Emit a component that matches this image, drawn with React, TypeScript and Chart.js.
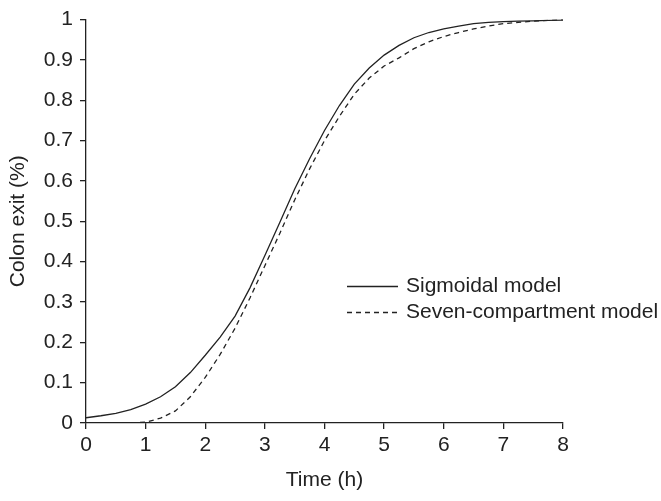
import React, { useEffect, useRef } from "react";
import { Chart, registerables } from "chart.js";

Chart.register(...registerables);

const hours = [0, 0.25, 0.5, 0.75, 1, 1.25, 1.5, 1.75, 2, 2.25, 2.5, 2.75, 3, 3.25, 3.5, 3.75, 4, 4.25, 4.5, 4.75, 5, 5.25, 5.5, 5.75, 6, 6.25, 6.5, 6.75, 7, 7.25, 7.5, 7.75, 8];
const sigmoidal = [0.013, 0.018, 0.024, 0.033, 0.047, 0.065, 0.09, 0.125, 0.168, 0.213, 0.265, 0.335, 0.415, 0.497, 0.58, 0.655, 0.725, 0.787, 0.84, 0.88, 0.912, 0.936, 0.955, 0.968, 0.977, 0.984, 0.99, 0.993, 0.995, 0.996, 0.997, 0.998, 0.999];
const sevenCompartment = [0, 0, 0, 0, 0.002, 0.012, 0.03, 0.065, 0.113, 0.17, 0.235, 0.31, 0.39, 0.47, 0.553, 0.63, 0.7, 0.76, 0.815, 0.855, 0.885, 0.905, 0.928, 0.945, 0.958, 0.968, 0.977, 0.984, 0.99, 0.993, 0.996, 0.998, 1.0];
const seriesNames = ["Sigmoidal model", "Seven-compartment model"];
const xTitle = "Time (h)";
const yTitle = "Colon exit (%)";

const FONT = "'Liberation Sans', Arial, Helvetica, sans-serif";
const FONT_SIZE = 21;
const INK = "#222222";

const textPlugin = {
  id: "customText",
  afterDraw(chart: any) {
    const ctx = chart.ctx;
    const area = chart.chartArea;
    ctx.save();
    ctx.fillStyle = INK;
    ctx.font = `${FONT_SIZE}px ${FONT}`;
    ctx.textAlign = "center";
    ctx.textBaseline = "middle";
    ctx.fillText(xTitle, (area.left + area.right) / 2, 480);
    ctx.save();
    ctx.translate(18, (area.top + area.bottom) / 2);
    ctx.rotate(-Math.PI / 2);
    ctx.fillText(yTitle, 0, 0);
    ctx.restore();
    const rows = [286, 312];
    chart.data.datasets.forEach((ds: any, i: number) => {
      const y = rows[i];
      ctx.strokeStyle = INK;
      ctx.lineWidth = 1.3;
      ctx.setLineDash(ds.borderDash || []);
      ctx.beginPath();
      ctx.moveTo(347, y + 0.5);
      ctx.lineTo(398, y + 0.5);
      ctx.stroke();
      ctx.setLineDash([]);
      ctx.textAlign = "left";
      ctx.fillText(ds.label, 406, y);
    });
    ctx.restore();
  },
};

export default function App() {
  const ref = useRef<HTMLCanvasElement | null>(null);
  useEffect(() => {
    if (!ref.current) return;
    const chart = new Chart(ref.current, {
      type: "line",
      data: {
        datasets: [
          {
            label: seriesNames[0],
            data: hours.map((h, i) => ({ x: h, y: sigmoidal[i] })),
            borderColor: INK,
            borderWidth: 1.3,
            pointRadius: 0,
            tension: 0,
            fill: false,
          },
          {
            label: seriesNames[1],
            data: hours.map((h, i) => ({ x: h, y: sevenCompartment[i] })),
            borderColor: INK,
            borderWidth: 1.3,
            borderDash: [5, 4],
            pointRadius: 0,
            tension: 0,
            fill: false,
          },
        ],
      },
      options: {
        responsive: false,
        animation: false,
        layout: { padding: { top: 15, right: 98, left: 0, bottom: 0 } },
        plugins: { legend: { display: false }, tooltip: { enabled: false } },
        scales: {
          x: {
            type: "linear",
            min: 0,
            max: 8,
            ticks: { stepSize: 1, color: INK, font: { family: FONT, size: FONT_SIZE }, padding: 4, maxRotation: 0 },
            grid: { drawOnChartArea: false, drawTicks: true, tickLength: 6, color: INK, lineWidth: 1.3 },
            border: { display: true, color: INK, width: 1.3 },
            afterFit(scale: any) {
              scale.height = 78;
            },
          },
          y: {
            min: 0,
            max: 1,
            ticks: {
              stepSize: 0.1,
              color: INK,
              font: { family: FONT, size: FONT_SIZE },
              padding: 7,
              callback: (v: any) => String(Number(Number(v).toFixed(1))),
            },
            grid: { drawOnChartArea: false, drawTicks: true, tickLength: 6, color: INK, lineWidth: 1.3 },
            border: { display: true, color: INK, width: 1.3 },
            afterFit(scale: any) {
              scale.width = 86;
            },
          },
        },
      },
      plugins: [textPlugin],
    });
    return () => chart.destroy();
  }, []);
  return (
    <div style={{ position: "absolute", left: 0, top: 0, width: 661, height: 501, background: "#fff" }}>
      <canvas ref={ref} width={661} height={501} />
    </div>
  );
}
